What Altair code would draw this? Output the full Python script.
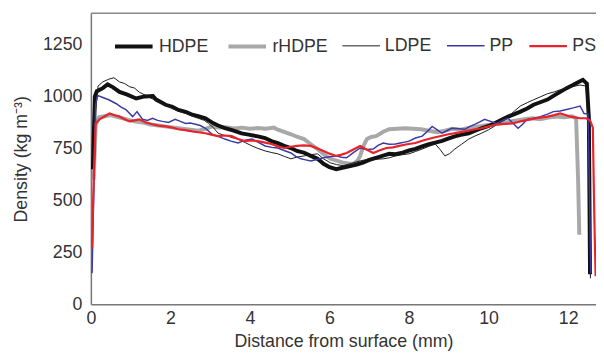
import altair as alt
import pandas as pd

series_names = ["HDPE", "rHDPE", "LDPE", "PP", "PS"]
series_colors = ["#111111", "#a8a8a8", "#1a1a1a", "#3a3aa0", "#e8232b"]
series_widths = [4.0, 4.0, 1.0, 1.5, 2.2]
draw_order = ["rHDPE", "HDPE", "LDPE", "PP", "PS"]

hdpe_x = [0.05, 0.1, 0.15, 0.3, 0.42, 0.55, 0.72, 0.9, 1.14, 1.35, 1.56, 1.64, 1.88, 2.05, 2.2, 2.4, 2.55, 2.7, 2.88, 3.07, 3.2, 3.37, 3.55, 3.79, 4.0, 4.2, 4.38, 4.54, 4.7, 4.86, 5.03, 5.18, 5.35, 5.53, 5.7, 5.85, 6.0, 6.17, 6.35, 6.52, 6.68, 6.84, 7.0, 7.17, 7.35, 7.5, 7.66, 7.84, 8.0, 8.16, 8.33, 8.5, 8.66, 8.83, 9.0, 9.15, 9.3, 9.5, 9.66, 9.82, 10.0, 10.14, 10.3, 10.49, 10.65, 10.8, 10.97, 11.13, 11.3, 11.48, 11.65, 11.8, 11.96, 12.12, 12.25, 12.37, 12.47, 12.52, 12.55]
hdpe_y = [650, 1000, 1025, 1040, 1058, 1045, 1022, 1010, 990, 1000, 1002, 985, 960, 950, 935, 925, 912, 905, 895, 872, 860, 848, 838, 822, 815, 808, 800, 785, 775, 762, 752, 738, 730, 714, 700, 676, 660, 650, 658, 665, 672, 682, 695, 705, 715, 724, 722, 730, 740, 748, 760, 771, 778, 786, 798, 808, 815, 823, 835, 847, 858, 870, 885, 903, 915, 927, 942, 960, 972, 985, 1005, 1022, 1040, 1055, 1068, 1080, 1062, 900, 145]

rhdpe_x = [0.07, 0.12, 0.2, 0.35, 0.5, 0.7, 0.9, 1.1, 1.3, 1.5, 1.7, 1.9, 2.1, 2.3, 2.5, 2.7, 2.9, 3.05, 3.2, 3.4, 3.6, 3.8, 4.0, 4.2, 4.4, 4.6, 4.7, 4.86, 5.03, 5.2, 5.36, 5.53, 5.7, 5.85, 6.02, 6.2, 6.35, 6.5, 6.6, 6.7, 6.77, 6.85, 6.94, 7.05, 7.17, 7.35, 7.5, 7.7, 7.9, 8.1, 8.3, 8.5, 8.7, 8.9, 9.1, 9.3, 9.5, 9.7, 9.9, 10.1, 10.3, 10.5, 10.7, 10.9, 11.1, 11.3, 11.5, 11.7, 11.9, 12.1, 12.2, 12.25, 12.28]
rhdpe_y = [600, 860, 900, 905, 910, 900, 890, 880, 875, 865, 860, 855, 850, 845, 840, 835, 845, 856, 850, 852, 846, 850, 845, 848, 845, 850, 840, 830, 818, 805, 795, 770, 747, 722, 700, 690, 681, 676, 676, 690, 714, 760, 795, 805, 809, 830, 842, 845, 847, 845, 842, 835, 828, 835, 845, 840, 848, 855, 860, 865, 870, 878, 885, 890, 895, 890, 898, 903, 900, 905, 895, 600, 335]

ldpe_x = [0.05, 0.1, 0.18, 0.3, 0.45, 0.58, 0.72, 0.85, 0.97, 1.1, 1.22, 1.38, 1.55, 1.7, 1.8, 1.93, 2.05, 2.2, 2.38, 2.55, 2.7, 2.85, 2.96, 3.08, 3.2, 3.32, 3.45, 3.58, 3.7, 3.88, 4.05, 4.2, 4.38, 4.55, 4.7, 4.86, 5.03, 5.18, 5.36, 5.53, 5.7, 5.85, 6.02, 6.18, 6.35, 6.55, 6.77, 6.9, 7.0, 7.17, 7.35, 7.5, 7.66, 7.84, 8.0, 8.16, 8.33, 8.5, 8.66, 8.78, 8.9, 9.02, 9.15, 9.32, 9.5, 9.66, 9.82, 10.0, 10.14, 10.3, 10.49, 10.65, 10.8, 10.97, 11.13, 11.3, 11.48, 11.65, 11.8, 11.96, 12.1, 12.3, 12.45, 12.52, 12.56]
ldpe_y = [400, 900, 1050, 1070, 1083, 1090, 1070, 1062, 1047, 1040, 1020, 1005, 988, 975, 965, 955, 941, 930, 918, 905, 895, 885, 870, 850, 823, 815, 809, 800, 795, 778, 762, 750, 738, 730, 724, 712, 700, 708, 714, 720, 724, 700, 681, 672, 667, 678, 690, 695, 700, 698, 700, 705, 714, 720, 724, 735, 747, 760, 771, 745, 714, 725, 747, 770, 795, 810, 823, 840, 856, 880, 903, 930, 954, 970, 984, 998, 1013, 1022, 1032, 1040, 1047, 1055, 1050, 800, 125]

pp_x = [0.03, 0.08, 0.12, 0.17, 0.3, 0.45, 0.64, 0.75, 0.88, 1.05, 1.16, 1.3, 1.42, 1.55, 1.68, 1.8, 1.95, 2.12, 2.25, 2.38, 2.5, 2.63, 2.75, 2.88, 3.05, 3.2, 3.37, 3.52, 3.7, 3.88, 4.05, 4.2, 4.38, 4.55, 4.7, 4.86, 5.03, 5.15, 5.28, 5.4, 5.53, 5.7, 5.85, 6.0, 6.17, 6.3, 6.43, 6.6, 6.77, 6.93, 7.1, 7.22, 7.35, 7.5, 7.66, 7.84, 8.0, 8.16, 8.33, 8.45, 8.58, 8.7, 8.83, 8.95, 9.07, 9.25, 9.4, 9.52, 9.65, 9.78, 9.9, 10.05, 10.2, 10.35, 10.49, 10.62, 10.74, 10.85, 10.97, 11.13, 11.3, 11.48, 11.63, 11.8, 11.96, 12.13, 12.3, 12.4, 12.5, 12.54, 12.57]
pp_y = [150, 600, 960, 1005, 995, 984, 965, 950, 937, 903, 927, 890, 885, 895, 885, 880, 875, 890, 880, 870, 872, 866, 860, 847, 818, 808, 795, 785, 776, 790, 795, 780, 762, 755, 752, 740, 728, 712, 700, 695, 690, 698, 705, 710, 714, 708, 705, 730, 752, 745, 747, 765, 776, 770, 771, 778, 785, 800, 809, 830, 856, 840, 823, 835, 847, 845, 842, 855, 866, 878, 890, 880, 870, 885, 895, 870, 847, 865, 890, 895, 903, 915, 927, 930, 937, 945, 954, 918, 915, 500, 150]

ps_x = [0.03, 0.07, 0.12, 0.22, 0.35, 0.47, 0.6, 0.72, 0.85, 0.97, 1.1, 1.22, 1.38, 1.55, 1.7, 1.88, 2.05, 2.2, 2.38, 2.55, 2.7, 2.88, 3.05, 3.2, 3.37, 3.54, 3.7, 3.87, 4.05, 4.2, 4.38, 4.54, 4.7, 4.86, 5.03, 5.18, 5.35, 5.53, 5.7, 5.85, 6.0, 6.17, 6.3, 6.43, 6.6, 6.77, 6.93, 7.1, 7.25, 7.43, 7.6, 7.75, 7.95, 8.16, 8.35, 8.58, 8.8, 8.99, 9.2, 9.4, 9.6, 9.82, 10.0, 10.2, 10.4, 10.6, 10.8, 11.05, 11.25, 11.48, 11.65, 11.8, 11.95, 12.05, 12.2, 12.3, 12.45, 12.55, 12.62, 12.66, 12.69]
ps_y = [270, 600, 870, 890, 905, 918, 910, 903, 890, 880, 885, 890, 875, 866, 860, 856, 850, 842, 838, 832, 828, 823, 815, 809, 812, 809, 795, 785, 788, 785, 778, 771, 760, 752, 758, 762, 765, 762, 750, 738, 725, 714, 720, 728, 745, 762, 745, 728, 740, 752, 755, 762, 770, 776, 788, 800, 810, 818, 825, 832, 840, 847, 856, 866, 868, 870, 880, 890, 897, 903, 910, 918, 910, 903, 898, 895, 895, 885, 850, 400, 135]

x_ticks = [0, 2, 4, 6, 8, 10, 12]
y_ticks = [0, 250, 500, 750, 1000, 1250]

series_data = {
    "HDPE": (hdpe_x, hdpe_y),
    "rHDPE": (rhdpe_x, rhdpe_y),
    "LDPE": (ldpe_x, ldpe_y),
    "PP": (pp_x, pp_y),
    "PS": (ps_x, ps_y),
}

rows = []
for name in draw_order:
    xs, ys = series_data[name]
    for xv, yv in zip(xs, ys):
        rows.append({"series": name, "x": xv, "y": yv})
df = pd.DataFrame(rows)

FONT = "Liberation Sans"

legend_kw = dict(
    title=None, orient="none", direction="horizontal", legendX=22, legendY=12,
    symbolType="stroke", symbolSize=1450, labelFontSize=18, labelFont=FONT,
    labelColor="#333333", columnPadding=11, labelOffset=4,
)

x_enc = alt.X(
    "x:Q",
    scale=alt.Scale(domain=[0, 12.7], nice=False, zero=False),
    axis=alt.Axis(values=x_ticks, title="Distance from surface (mm)", grid=False,
                  tickSize=0, labelPadding=5, titlePadding=6, labelFlush=False),
)
y_enc = alt.Y(
    "y:Q",
    scale=alt.Scale(domain=[0, 1400], nice=False),
    axis=alt.Axis(values=y_ticks, title="Density (kg m⁻³)", grid=False, format="d",
                  tickSize=0, labelPadding=9, titlePadding=12),
)
color_enc = alt.Color(
    "series:N",
    scale=alt.Scale(domain=series_names, range=series_colors),
    legend=alt.Legend(**legend_kw),
)
width_enc = alt.StrokeWidth(
    "series:N",
    scale=alt.Scale(type="ordinal", domain=series_names, range=series_widths),
    legend=alt.Legend(**legend_kw),
)

layers = []
for name in draw_order:
    layers.append(
        alt.Chart(df)
        .transform_filter(alt.datum.series == name)
        .mark_line(clip=True)
        .encode(x=x_enc, y=y_enc, color=color_enc, strokeWidth=width_enc)
    )

top_border = alt.Chart(pd.DataFrame({"y": [1400]})).mark_rule(color="#888888", strokeWidth=1.5).encode(
    y=alt.Y("y:Q")
)

chart = (
    alt.layer(*layers, top_border)
    .properties(
        width=512, height=295,
        autosize=alt.AutoSizeParams(type="none"),
        padding={"left": 84, "top": 3, "right": 0, "bottom": 50},
    )
    .configure_view(stroke=None)
    .configure_axis(
        labelFont=FONT, titleFont=FONT, labelFontSize=18, titleFontSize=18,
        labelColor="#333333", titleColor="#333333", titleFontWeight="normal",
        domainColor="#777777", domainWidth=1.5,
    )
)

chart.save("out.html", embed_options={"renderer": "svg", "actions": False})
